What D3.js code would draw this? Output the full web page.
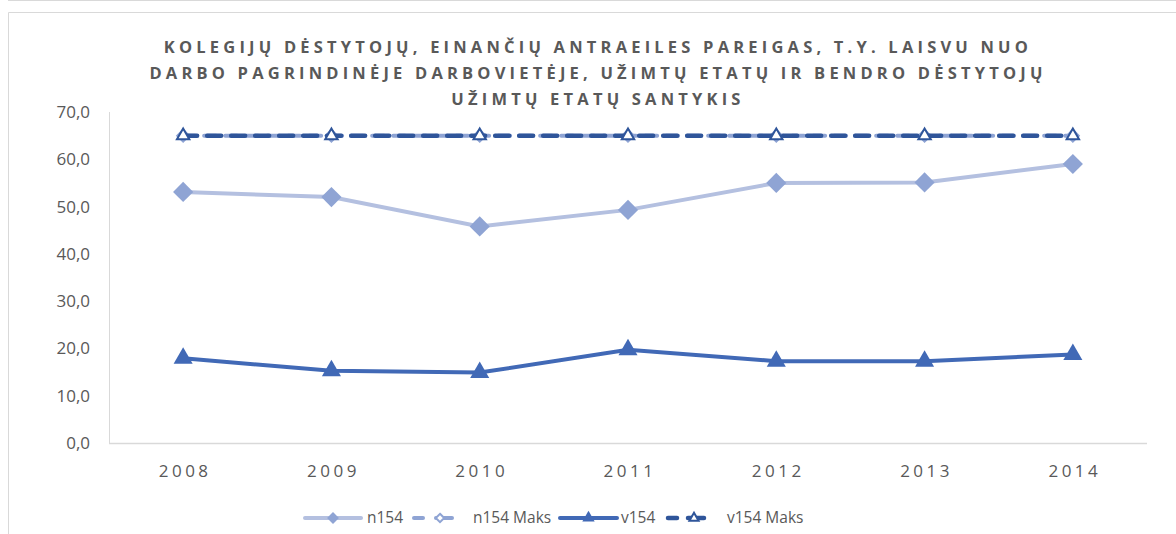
<!DOCTYPE html>
<html>
<head>
<meta charset="utf-8">
<script src="https://cdn.jsdelivr.net/npm/d3@7"></script>
<style>
  body { margin: 0; background: #fff; }
  text { font-family: "Open Sans", "Noto Sans", sans-serif; fill: #595959; }
</style>
</head>
<body>
<div id="chart"></div>
<script>
const years = ["2008", "2009", "2010", "2011", "2012", "2013", "2014"];
const n154 = [53.1, 52.0, 45.8, 49.3, 55.0, 55.1, 59.0];
const n154Maks = [65.0, 65.0, 65.0, 65.0, 65.0, 65.0, 65.0];
const v154 = [17.9, 15.3, 14.9, 19.7, 17.3, 17.3, 18.7];
const v154Maks = [65.0, 65.0, 65.0, 65.0, 65.0, 65.0, 65.0];
const yTicks = [0, 10, 20, 30, 40, 50, 60, 70];
const titleLines = [
  "KOLEGIJŲ DĖSTYTOJŲ, EINANČIŲ ANTRAEILES PAREIGAS, T.Y. LAISVU NUO",
  "DARBO PAGRINDINĖJE DARBOVIETĖJE, UŽIMTŲ ETATŲ IR BENDRO DĖSTYTOJŲ",
  "UŽIMTŲ ETATŲ SANTYKIS"
];

const width = 1176, height = 534;
const margin = { left: 109, right: 29, top: 112, bottom: 91 };

const svg = d3.select("#chart").append("svg")
  .attr("width", width).attr("height", height);

// chart frame
svg.append("line").attr("x1", 8).attr("x2", width).attr("y1", 0.5).attr("y2", 0.5)
  .attr("stroke", "#d9d9d9");
svg.append("path").attr("d", `M${width},12.5 H8.5 V${height}`)
  .attr("fill", "none").attr("stroke", "#d9d9d9");

const x = d3.scaleBand().domain(years).range([margin.left, width - margin.right]);
const y = d3.scaleLinear().domain([0, 70]).range([height - margin.bottom, margin.top]);
const cx = d => x(d) + x.bandwidth() / 2;

// axes lines
svg.append("line").attr("x1", margin.left + 0.5).attr("x2", margin.left + 0.5)
  .attr("y1", y(70)).attr("y2", y(0)).attr("stroke", "#d9d9d9");
svg.append("line").attr("x1", margin.left).attr("x2", width - margin.right)
  .attr("y1", y(0) + 0.5).attr("y2", y(0) + 0.5).attr("stroke", "#d9d9d9").attr("stroke-width", 1.5);

// y labels
svg.selectAll(".ylab").data(yTicks).enter().append("text")
  .attr("x", 90).attr("y", d => y(d)).attr("dy", "0.35em")
  .attr("text-anchor", "end").attr("font-size", 17)
  .text(d => d3.format(".1f")(d).replace(".", ","));

// x labels
svg.selectAll(".xlab").data(years).enter().append("text")
  .attr("x", d => cx(d) + 2).attr("y", 477)
  .attr("text-anchor", "middle").attr("font-size", 17).attr("letter-spacing", 3.5)
  .text(d => d);

// title
svg.selectAll(".title").data(titleLines).enter().append("text")
  .attr("x", 598).attr("y", (d, i) => 53 + i * 26)
  .attr("text-anchor", "middle").attr("font-size", 16.5).attr("font-weight", "bold")
  .attr("letter-spacing", 4.2)
  .text(d => d);

const diamond = d3.symbol().type(d3.symbolDiamond2);
const triangle = d3.symbol().type(d3.symbolTriangle2);

const series = [
  { name: "n154", values: n154, color: "#b4c0e0", width: 4, dash: null,
    marker: diamond.size(260)(), mFill: "#8fa4d4", mStroke: "none" },
  { name: "n154 Maks", values: n154Maks, color: "#8fa4d4", width: 4, dash: "12,9",
    marker: diamond.size(90)(), mFill: "#fff", mStroke: "#8fa4d4" },
  { name: "v154", values: v154, color: "#4169b6", width: 4, dash: null,
    marker: triangle.size(260)(), mFill: "#4169b6", mStroke: "none" },
  { name: "v154 Maks", values: v154Maks, color: "#2f559a", width: 4.5, dash: "14,10",
    marker: triangle.size(110)(), mFill: "#fff", mStroke: "#2f559a" }
];

const line = d3.line().x((d, i) => cx(years[i])).y(d => y(d));

series.forEach(s => {
  svg.append("path").datum(s.values)
    .attr("d", line).attr("fill", "none")
    .attr("stroke", s.color).attr("stroke-width", s.width)
    .attr("stroke-linecap", "round")
    .attr("stroke-dasharray", s.dash);
  svg.selectAll(null).data(s.values).enter().append("path")
    .attr("d", s.marker)
    .attr("transform", (d, i) => `translate(${cx(years[i])},${y(d)})`)
    .attr("fill", s.mFill).attr("stroke", s.mStroke).attr("stroke-width", 2);
});

// legend
const legendItems = [
  { s: series[0], x0: 305, x1: 361, tx: 367 },
  { s: series[1], x0: 412, x1: 454, tx: 473 },
  { s: series[2], x0: 560, x1: 617, tx: 621 },
  { s: series[3], x0: 666, x1: 706, tx: 727 }
];
const ly = 518;
legendItems.forEach(l => {
  const s = l.s;
  const g = svg.append("g");
  if (s.dash) {
    g.append("line").attr("x1", l.x0 + 2).attr("x2", l.x0 + 11).attr("y1", ly).attr("y2", ly)
      .attr("stroke", s.color).attr("stroke-width", s.width).attr("stroke-linecap", "round");
    g.append("line").attr("x1", l.x1 - 18).attr("x2", l.x1 - 2).attr("y1", ly).attr("y2", ly)
      .attr("stroke", s.color).attr("stroke-width", s.width).attr("stroke-linecap", "round");
  } else {
    g.append("line").attr("x1", l.x0).attr("x2", l.x1).attr("y1", ly).attr("y2", ly)
      .attr("stroke", s.color).attr("stroke-width", s.width).attr("stroke-linecap", "round");
  }
  const mx = s.dash ? l.x0 + 28 : (l.x0 + l.x1) / 2;
  const sym = s.name.startsWith("n") ? diamond.size(s.dash ? 45 : 90)() : triangle.size(s.dash ? 60 : 110)();
  g.append("path").attr("d", sym).attr("transform", `translate(${mx},${ly})`)
    .attr("fill", s.mFill).attr("stroke", s.mStroke).attr("stroke-width", 2);
  g.append("text").attr("x", l.tx).attr("y", ly).attr("dy", "0.35em")
    .attr("font-size", 15.5).text(s.name);
});
</script>
</body>
</html>
